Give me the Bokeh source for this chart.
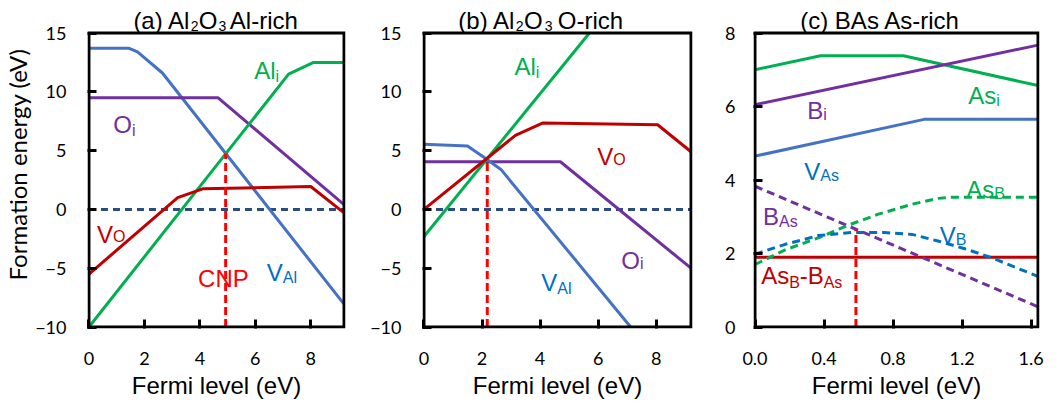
from bokeh.plotting import figure
from bokeh.models import Range1d, FixedTicker, Label, PrintfTickFormatter
from bokeh.layouts import row
from bokeh.embed import file_html
from bokeh.resources import INLINE

# ---------------- data ----------------
# Panel (a) Al2O3 Al-rich
a_VAl_x = [0, 1.45, 1.75, 2.65, 9.2]
a_VAl_y = [13.7, 13.7, 13.4, 11.6, -8.05]
a_Ali_x = [0, 7.2, 8.1, 9.2]
a_Ali_y = [-10, 11.5, 12.5, 12.5]
a_Oi_x = [0, 4.65, 9.2]
a_Oi_y = [9.5, 9.5, 0.4]
a_VO_x = [0, 3.2, 4.1, 8.0, 9.2]
a_VO_y = [-5.5, 1.0, 1.75, 1.95, -0.3]
a_cnp_x, a_cnp_y = 4.93, 4.75

# Panel (b) Al2O3 O-rich
b_VAl_x = [0, 1.5, 2.2, 2.65, 7.12]
b_VAl_y = [5.55, 5.4, 4.2, 3.4, -10]
b_Ali_x = [0, 5.7]
b_Ali_y = [-2.3, 15]
b_Oi_x = [0, 4.7, 9.2]
b_Oi_y = [4.05, 4.05, -5.0]
b_VO_x = [0, 3.15, 4.1, 8.05, 9.2]
b_VO_y = [0, 6.3, 7.35, 7.2, 4.9]
b_cnp_x, b_cnp_y = 2.18, 4.3

zero_x = [0, 9.2]
zero_y = [0, 0]

# Panel (c) BAs As-rich
c_Asi_x = [0, 0.38, 0.86, 1.64]
c_Asi_y = [7.0, 7.38, 7.38, 6.57]
c_Bi_x = [0, 1.64]
c_Bi_y = [6.05, 7.67]
c_VAs_x = [0, 0.98, 1.64]
c_VAs_y = [4.65, 5.65, 5.65]
c_AsB_x = [0, 0.175, 0.37, 0.54, 0.715, 0.91, 1.06, 1.14, 1.64]
c_AsB_y = [1.7, 2.1, 2.43, 2.77, 3.07, 3.34, 3.5, 3.53, 3.53]
c_VB_x = [0, 0.175, 0.37, 0.56, 0.75, 0.91, 1.06, 1.215, 1.37, 1.52, 1.64]
c_VB_y = [1.98, 2.25, 2.49, 2.57, 2.57, 2.52, 2.34, 2.13, 1.89, 1.6, 1.38]
c_BAs_x = [0, 1.64]
c_BAs_y = [3.83, 0.55]
c_pair_x = [0, 1.64]
c_pair_y = [1.9, 1.9]
c_cnp_x, c_cnp_y = 0.585, 2.66

ab_xlim = (0, 9.2)
ab_ylim = (-10, 15)
c_xlim = (0, 1.64)
c_ylim = (0, 8)
ab_xticks = [0, 2, 4, 6, 8]
ab_yticks = [-10, -5, 0, 5, 10, 15]
c_xticks = [0, 0.4, 0.8, 1.2, 1.6]
c_yticks = [0, 2, 4, 6, 8]

GREEN = "#00B050"
BLUE = "#4472C4"
BLUE_T = "#0070C0"
PURPLE = "#7030A0"
DARKRED = "#C00000"
RED = "#FF0000"
NAVY = "#2B4C7E"

LBL_FONT = "Liberation Sans"
TICK_FONT = "Lato"
MAIN = 24
SUB = 16
TSUB = 14

FIG_H = 407
FRAME_H = 328      # frame spans from the top of the canvas; title sits inside it
BOX_H = 294        # pixel height of the drawn axes box
PAD = 1.5          # half of the box line width


class Panel:
    def __init__(self, width, left, frame_w, xlim, ylim, xticks, yticks, ystand):
        self.xlim, self.ylim = xlim, ylim
        sx = (frame_w - 2 * PAD) / (xlim[1] - xlim[0])
        sy = BOX_H / (ylim[1] - ylim[0])
        self.sy = sy
        ylo = ylim[0] - PAD / sy
        xr = Range1d(xlim[0] - PAD / sx, xlim[1] + PAD / sx)
        yr = Range1d(ylo, ylo + FRAME_H / sy)
        p = figure(width=width, height=FIG_H, x_range=xr, y_range=yr, title=None,
                   output_backend="svg", toolbar_location=None,
                   min_border_left=left, min_border_right=width - left - frame_w,
                   min_border_top=0, min_border_bottom=FIG_H - FRAME_H)
        p.grid.visible = False
        p.outline_line_color = None
        p.background_fill_color = "white"
        p.border_fill_color = "white"
        p.xaxis.ticker = FixedTicker(ticks=xticks)
        p.yaxis.ticker = FixedTicker(ticks=yticks)
        for ax in (p.xaxis[0], p.yaxis[0]):
            ax.axis_line_color = None
            ax.major_tick_in = 9
            ax.major_tick_out = 0
            ax.major_tick_line_width = 3
            ax.major_tick_line_color = "black"
            ax.minor_tick_line_color = None
            ax.major_label_text_font = TICK_FONT
            ax.major_label_text_font_size = "18px"
            ax.major_label_text_color = "black"
        p.xaxis.major_label_standoff = 23
        p.yaxis.major_label_standoff = ystand
        p.xaxis.axis_label = "Fermi level (eV)"
        p.xaxis.axis_label_text_font = LBL_FONT
        p.xaxis.axis_label_text_font_size = "24px"
        p.xaxis.axis_label_text_font_style = "normal"
        p.xaxis.axis_label_text_color = "black"
        p.xaxis.axis_label_standoff = 4
        self.p = p

    def title_y(self, px_above_box):
        return self.ylim[1] + px_above_box / self.sy

    def box(self):
        x0, x1 = self.xlim
        y0, y1 = self.ylim
        self.p.line([x0, x1, x1, x0, x0], [y0, y0, y1, y1, y0], line_color="black",
                    line_width=3, line_join="miter")


def txt(p, x, y, text, color, size, align="left"):
    p.add_layout(Label(x=x, y=y, text=text, text_color=color,
                       text_font_size=f"{size}px", text_font=LBL_FONT,
                       text_align=align, text_baseline="alphabetic"))


def sublabel(p, xj, yb, ys, main, sub, color):
    txt(p, xj, yb, main, color, MAIN, "right")
    txt(p, xj, ys, sub, color, SUB, "left")


def ln(p, x, y, color, dash="solid"):
    p.line(x, y, line_color=color, line_width=3, line_dash=dash, line_join="round")


# ---------------- panel (a) ----------------
A = Panel(367, 82, 263, ab_xlim, ab_ylim, ab_xticks, ab_yticks, 21)
pa = A.p
pa.yaxis.axis_label = "Formation energy (eV)"
pa.yaxis.axis_label_text_font = TICK_FONT
pa.yaxis.axis_label_text_font_size = "24px"
pa.yaxis.axis_label_text_font_style = "normal"
pa.yaxis.axis_label_text_color = "black"
pa.yaxis.axis_label_standoff = 0
ln(pa, zero_x, zero_y, NAVY, "7 5")
ln(pa, a_VAl_x, a_VAl_y, BLUE)
ln(pa, a_Oi_x, a_Oi_y, PURPLE)
ln(pa, a_Ali_x, a_Ali_y, GREEN)
ln(pa, a_VO_x, a_VO_y, DARKRED)
pa.segment(x0=[a_cnp_x], y0=[-10], x1=[a_cnp_x], y1=[a_cnp_y], line_color=RED,
           line_width=3, line_dash="8 4")
A.box()
sublabel(pa, 6.73, 11.77, 11.34, "Al", "i", GREEN)
sublabel(pa, 1.55, 7.18, 6.73, "O", "i", PURPLE)
sublabel(pa, 0.87, -2.12, -2.32, "V", "O", DARKRED)
sublabel(pa, 6.99, -5.38, -5.81, "V", "Al", BLUE_T)
txt(pa, 4.85, -5.89, "CNP", RED, MAIN, "center")
tyA, tsA = A.title_y(12.5), A.title_y(7.5)
txt(pa, 3.67, tyA, "(a) Al", "black", MAIN, "right")
txt(pa, 3.67, tsA, "2", "black", TSUB)
txt(pa, 3.96, tyA, "O", "black", MAIN)
txt(pa, 4.67, tsA, "3", "black", TSUB)
txt(pa, 5.08, tyA, "Al-rich", "black", MAIN)

# ---------------- panel (b) ----------------
B = Panel(345, 52, 273, ab_xlim, ab_ylim, ab_xticks, ab_yticks, 21)
pb = B.p
ln(pb, zero_x, zero_y, NAVY, "7 5")
ln(pb, b_Oi_x, b_Oi_y, PURPLE)
ln(pb, b_VAl_x, b_VAl_y, BLUE)
ln(pb, b_Ali_x, b_Ali_y, GREEN)
ln(pb, b_VO_x, b_VO_y, DARKRED)
pb.segment(x0=[b_cnp_x], y0=[-10], x1=[b_cnp_x], y1=[b_cnp_y], line_color=RED,
           line_width=3, line_dash="8 4")
B.box()
sublabel(pb, 3.85, 12.11, 11.68, "Al", "i", GREEN)
sublabel(pb, 6.52, 4.46, 4.24, "V", "O", DARKRED)
sublabel(pb, 4.59, -6.23, -6.71, "V", "Al", BLUE_T)
sublabel(pb, 7.44, -4.33, -4.64, "O", "i", PURPLE)
tyB, tsB = B.title_y(12.5), B.title_y(7.5)
txt(pb, 3.16, tyB, "(b) Al", "black", MAIN, "right")
txt(pb, 3.16, tsB, "2", "black", TSUB)
txt(pb, 3.45, tyB, "O", "black", MAIN)
txt(pb, 4.16, tsB, "3", "black", TSUB)
txt(pb, 4.61, tyB, "O-rich", "black", MAIN)

# ---------------- panel (c) ----------------
C = Panel(339, 41, 286, c_xlim, c_ylim, c_xticks, c_yticks, 18)
pc = C.p
pc.xaxis.formatter = PrintfTickFormatter(format="%.1f")
ln(pc, c_Asi_x, c_Asi_y, GREEN)
ln(pc, c_Bi_x, c_Bi_y, PURPLE)
ln(pc, c_VAs_x, c_VAs_y, BLUE)
ln(pc, c_pair_x, c_pair_y, DARKRED)
ln(pc, c_BAs_x, c_BAs_y, PURPLE, "8 5")
ln(pc, c_AsB_x, c_AsB_y, GREEN, "8 5")
ln(pc, c_VB_x, c_VB_y, BLUE_T, "8 5")
pc.segment(x0=[c_cnp_x], y0=[0], x1=[c_cnp_x], y1=[c_cnp_y], line_color=RED,
           line_width=3, line_dash="8 4")
C.box()
sublabel(pc, 1.398, 6.29, 6.15, "As", "i", GREEN)
sublabel(pc, 0.396, 5.88, 5.77, "B", "i", PURPLE)
sublabel(pc, 0.378, 4.24, 4.11, "V", "As", BLUE_T)
sublabel(pc, 1.386, 3.75, 3.62, "As", "B", GREEN)
sublabel(pc, 0.139, 3.02, 2.88, "B", "As", PURPLE)
sublabel(pc, 1.163, 2.48, 2.39, "V", "B", BLUE_T)
sublabel(pc, 0.199, 1.39, 1.21, "As", "B", DARKRED)
sublabel(pc, 0.398, 1.39, 1.21, "-B", "As", DARKRED)
txt(pc, 0.262, C.title_y(12.5), "(c) BAs As-rich", "black", MAIN)

layout = row(pa, pb, pc)
open("out.html", "w").write(file_html(layout, INLINE))
